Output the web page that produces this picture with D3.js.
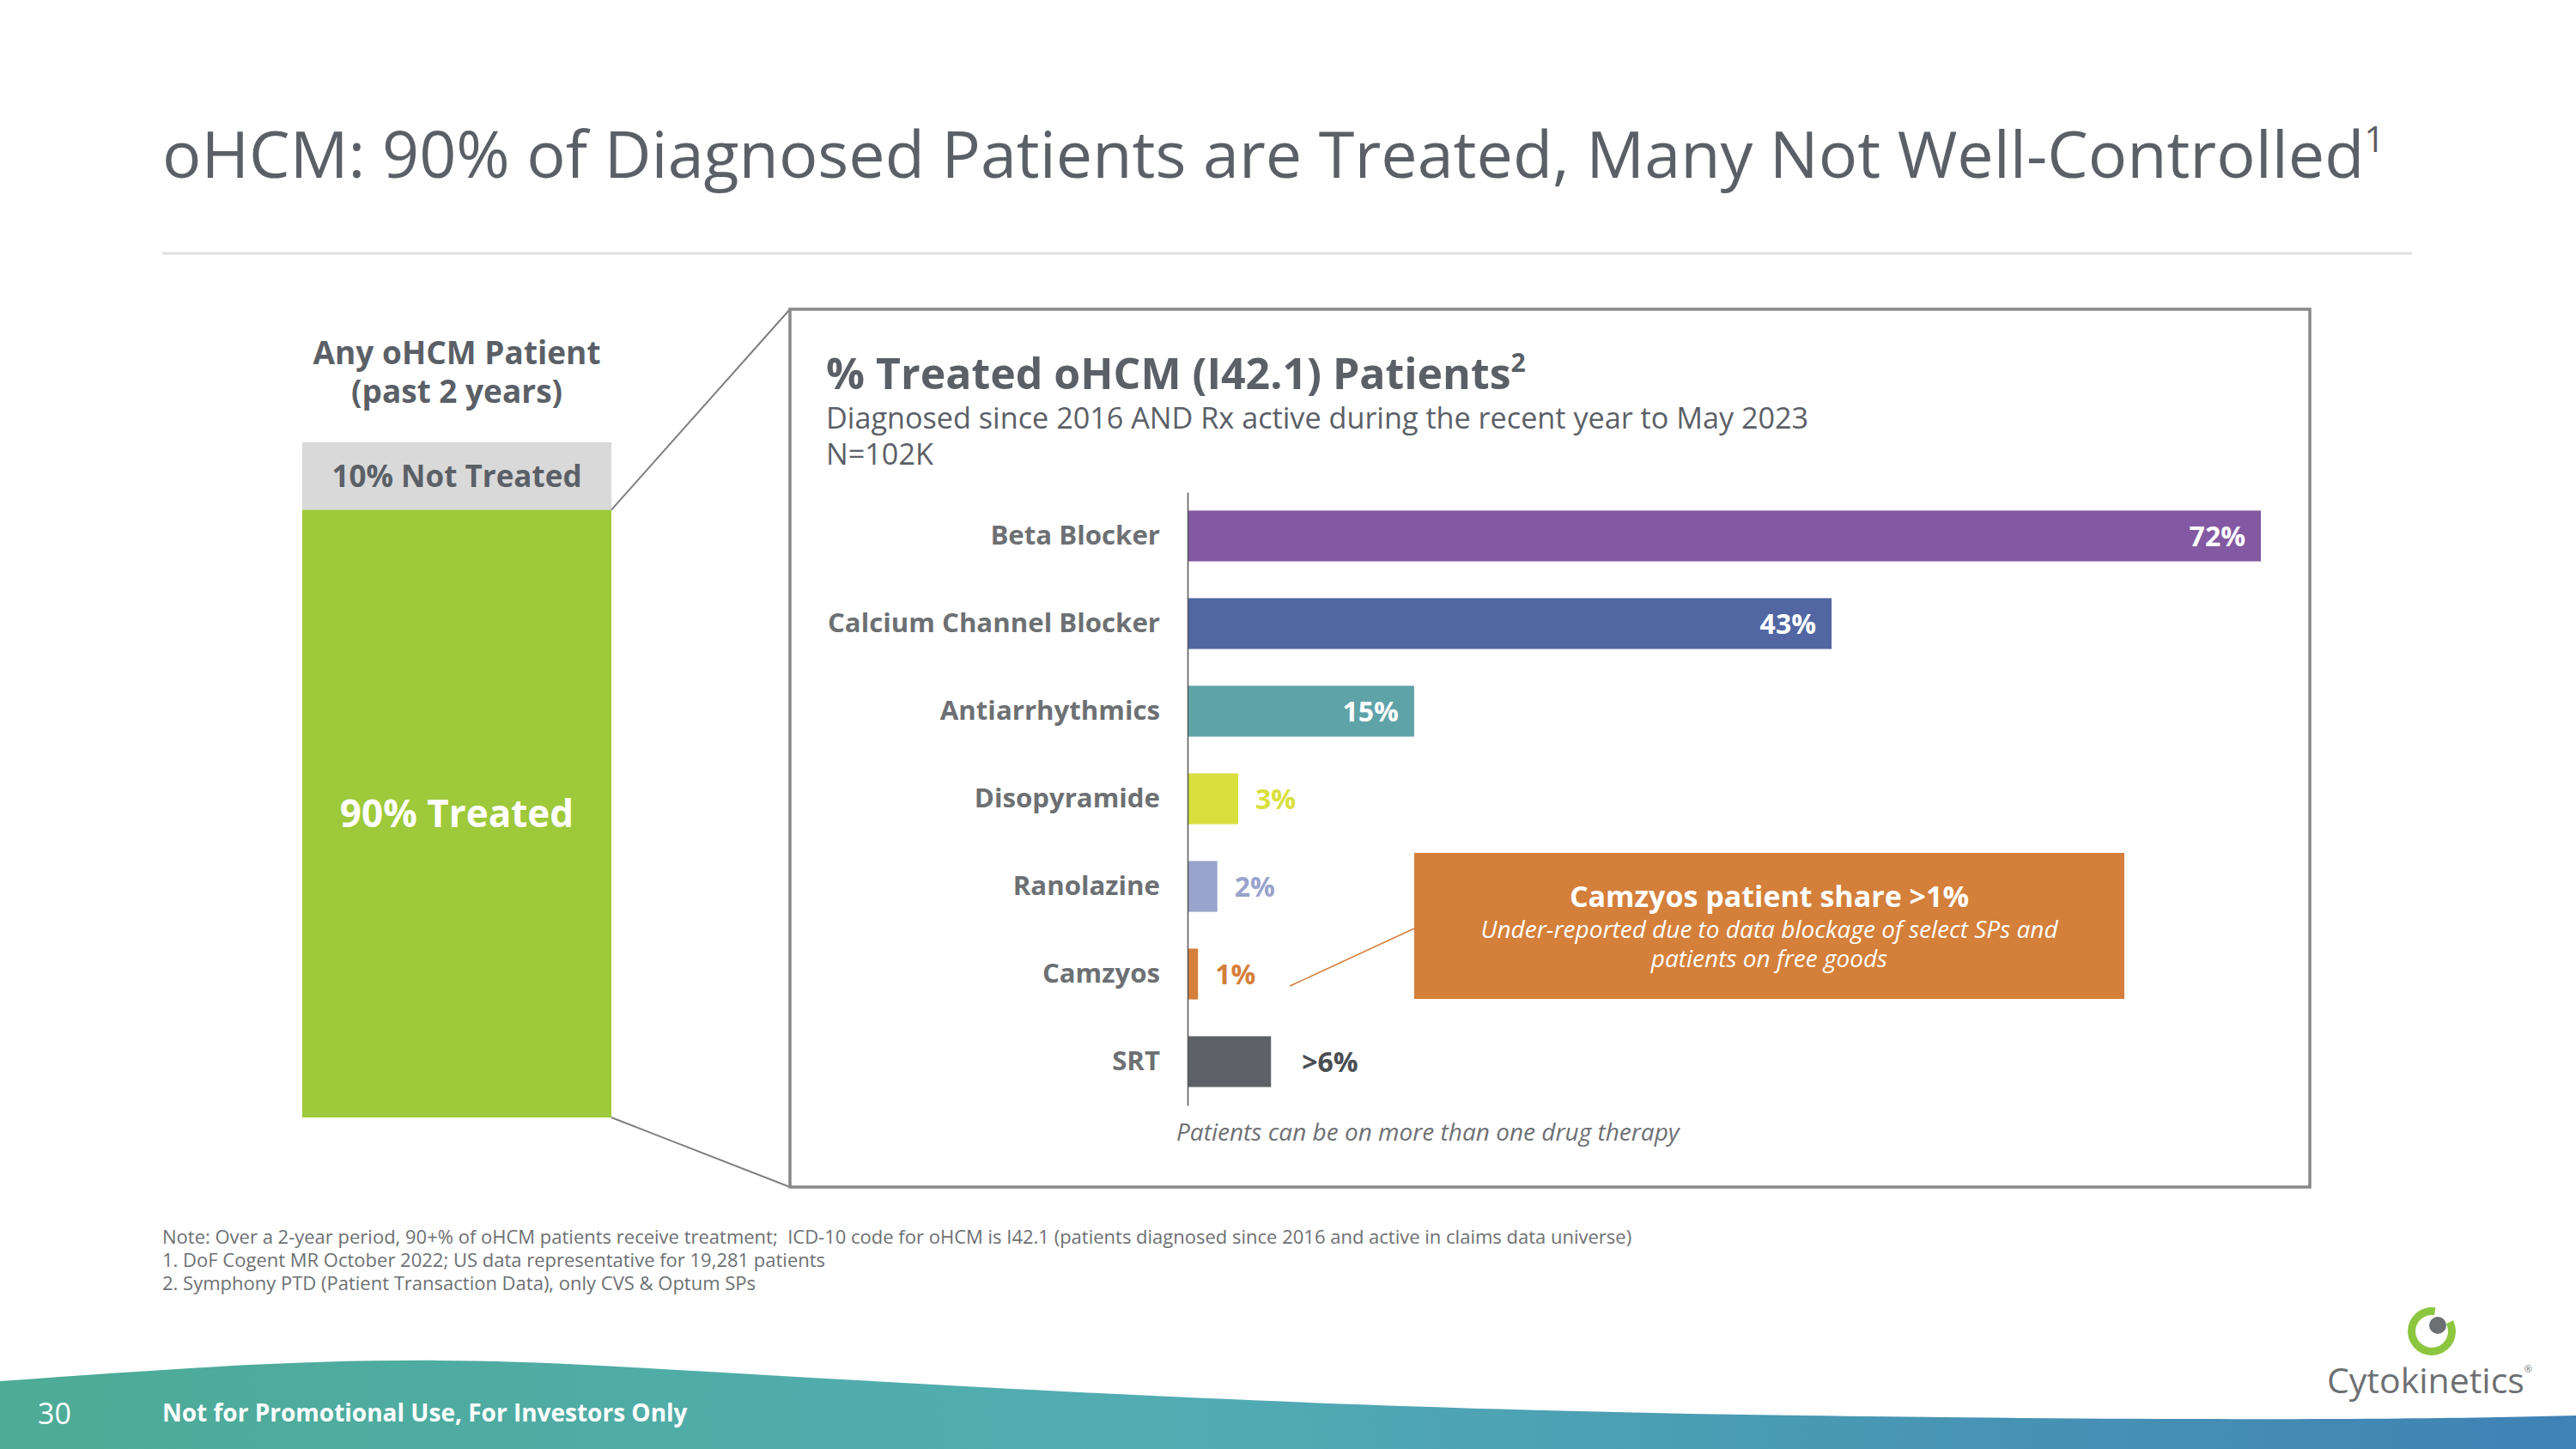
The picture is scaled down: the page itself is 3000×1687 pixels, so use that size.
<!DOCTYPE html>
<html>
<head>
<meta charset="utf-8">
<script src="https://cdn.jsdelivr.net/npm/d3@7"></script>
<style>
  body { margin: 0; background: #fff; }
  svg { display: block; font-family: "Open Sans", sans-serif; }
</style>
</head>
<body>
<svg id="chart" width="3000" height="1687"></svg>
<script>
// data
const drugs = ["Beta Blocker", "Calcium Channel Blocker", "Antiarrhythmics", "Disopyramide", "Ranolazine", "Camzyos", "SRT"];
const shares = [72, 43.2, 15.2, 3.4, 2, 0.7, 5.6];
const shareLabels = ["72%", "43%", "15%", "3%", "2%", "1%", ">6%"];
const drugColors = ["#8459a3", "#5166a3", "#5ea3a8", "#d9df3d", "#99a3cc", "#d47f3a", "#5e6266"];

const patientGroups = ["Not Treated", "Treated"];
const patientShares = [10, 90];
const patientLabels = ["10% Not Treated", "90% Treated"];

const footnotes = [
  "Note: Over a 2-year period, 90+% of oHCM patients receive treatment;  ICD-10 code for oHCM is I42.1 (patients diagnosed since 2016 and active in claims data universe)",
  "1. DoF Cogent MR October 2022; US data representative for 19,281 patients",
  "2. Symphony PTD (Patient Transaction Data), only CVS & Optum SPs"
];

const svg = d3.select("#chart");
const grey = "#5b6067";

// footer wave
const defs = svg.append("defs");
const grad = defs.append("linearGradient").attr("id", "wave").attr("x1", 0).attr("x2", 1);
grad.append("stop").attr("offset", 0).attr("stop-color", "#4dab96");
grad.append("stop").attr("offset", 0.45).attr("stop-color", "#52adb3");
grad.append("stop").attr("offset", 1).attr("stop-color", "#3f82b5");
svg.append("path")
  .attr("d", "M0,1608 C250,1590 450,1575 700,1590 C1100,1612 1500,1640 2100,1648 C2600,1655 2850,1652 3000,1648 L3000,1687 L0,1687 Z")
  .attr("fill", "url(#wave)");
svg.append("text").attr("x", 44).attr("y", 1658).attr("fill", "#fff")
  .attr("font-size", 34).text("30");
svg.append("text").attr("x", 189).attr("y", 1655).attr("fill", "#fff")
  .attr("font-size", 28).attr("font-weight", 700).text("Not for Promotional Use, For Investors Only");

// logo
const logo = svg.append("g").attr("transform", "translate(2832,1550)");
logo.append("path").attr("d", d3.arc()({innerRadius: 19, outerRadius: 28, startAngle: Math.PI * 0.35, endAngle: Math.PI * 2.05}))
  .attr("fill", "#8cc63f");
logo.append("circle").attr("cx", 7).attr("cy", -7).attr("r", 10).attr("fill", "#6d7073");
const lt = svg.append("text").attr("x", 2710).attr("y", 1622).attr("fill", "#6d7073").attr("font-size", 41);
lt.append("tspan").text("Cytokinetics");
lt.append("tspan").attr("font-size", 11).attr("dy", -24).text("®");

// title
const title = svg.append("text").attr("x", 189).attr("y", 207).attr("fill", grey).attr("font-size", 75.5);
title.append("tspan").text("oHCM: 90% of Diagnosed Patients are Treated, Many Not Well-Controlled");
title.append("tspan").attr("font-size", 42).attr("dy", -30).text("1");
svg.append("line").attr("x1", 189).attr("x2", 2809).attr("y1", 295).attr("y2", 295)
  .attr("stroke", "#e0e0e0").attr("stroke-width", 3);

// left stacked bar
const yLeft = d3.scaleLinear().domain([0, 100]).range([515, 1301]);
let acc = 0;
const stack = patientShares.map((v, i) => { const s = {y0: acc, y1: acc + v, i}; acc += v; return s; });
svg.selectAll("rect.pat").data(stack).join("rect")
  .attr("x", 352).attr("width", 360)
  .attr("y", d => yLeft(d.y0)).attr("height", d => yLeft(d.y1) - yLeft(d.y0))
  .attr("fill", (d, i) => i === 0 ? "#d9d9d9" : "#9ec93a");
svg.selectAll("text.pat").data(stack).join("text")
  .attr("x", 532).attr("y", d => (yLeft(d.y0) + yLeft(d.y1)) / 2)
  .attr("dy", "0.36em").attr("text-anchor", "middle").attr("font-weight", 700)
  .attr("font-size", (d, i) => i === 0 ? 35 : 44)
  .attr("fill", (d, i) => i === 0 ? grey : "#fff")
  .text((d, i) => patientLabels[i]);
svg.append("text").attr("x", 532).attr("y", 424).attr("text-anchor", "middle")
  .attr("font-weight", 700).attr("font-size", 37).attr("fill", grey).text("Any oHCM Patient");
svg.append("text").attr("x", 532).attr("y", 469).attr("text-anchor", "middle")
  .attr("font-weight", 700).attr("font-size", 37).attr("fill", grey).text("(past 2 years)");

// box and connector lines
const box = {x: 920, y: 360, w: 1770, h: 1022};
svg.append("line").attr("x1", 712).attr("y1", yLeft(10)).attr("x2", box.x).attr("y2", box.y)
  .attr("stroke", "#7f7f7f").attr("stroke-width", 2);
svg.append("line").attr("x1", 712).attr("y1", yLeft(100)).attr("x2", box.x).attr("y2", box.y + box.h)
  .attr("stroke", "#7f7f7f").attr("stroke-width", 2);
svg.append("rect").attr("x", box.x).attr("y", box.y).attr("width", box.w).attr("height", box.h)
  .attr("fill", "#fff").attr("stroke", "#888").attr("stroke-width", 3.5);

const ct = svg.append("text").attr("x", 962).attr("y", 453).attr("fill", grey)
  .attr("font-size", 50).attr("font-weight", 700);
ct.append("tspan").text("% Treated oHCM (I42.1) Patients");
ct.append("tspan").attr("font-size", 30).attr("dy", -20).text("2");
svg.append("text").attr("x", 962).attr("y", 499).attr("fill", grey).attr("font-size", 34.2)
  .text("Diagnosed since 2016 AND Rx active during the recent year to May 2023");
svg.append("text").attr("x", 962).attr("y", 541).attr("fill", grey).attr("font-size", 34.2)
  .text("N=102K");

// horizontal bars
const x = d3.scaleLinear().domain([0, 72]).range([1383, 2633]);
const y = d3.scaleBand().domain(drugs).range([573, 1287]).paddingInner(0.42).paddingOuter(0.21);
const rows = drugs.map((d, i) => ({name: d, v: shares[i], label: shareLabels[i], color: drugColors[i], i}));

svg.selectAll("rect.bar").data(rows).join("rect")
  .attr("x", x(0)).attr("y", d => y(d.name))
  .attr("width", d => x(d.v) - x(0)).attr("height", y.bandwidth())
  .attr("fill", d => d.color);

const yAxis = svg.append("g").attr("transform", `translate(${x(0)},0)`)
  .call(d3.axisLeft(y).tickSize(0).tickPadding(32));
yAxis.select(".domain").attr("stroke", "#555").attr("stroke-width", 1.5);
yAxis.selectAll("text").attr("font-family", "Open Sans").attr("font-size", 31.2)
  .attr("font-weight", 700).attr("fill", "#6d7073");

svg.selectAll("text.val").data(rows).join("text")
  .attr("y", d => y(d.name) + y.bandwidth() / 2).attr("dy", "0.36em")
  .attr("font-size", 32).attr("font-weight", 700)
  .attr("x", d => d.i < 3 ? x(d.v) - 18 : x(d.v) + (d.i === 6 ? 36 : 20))
  .attr("text-anchor", d => d.i < 3 ? "end" : "start")
  .attr("fill", d => d.i < 3 ? "#fff" : (d.i === 6 ? "#4a4e52" : d.color))
  .text(d => d.label);

svg.append("text").attr("x", 1370).attr("y", 1328).attr("fill", "#6d7073")
  .attr("font-size", 28).attr("font-style", "italic").text("Patients can be on more than one drug therapy");

// callout
const co = {x: 1647, y: 993, w: 827, h: 170};
svg.append("line").attr("x1", x(0.7) + 107).attr("y1", y("Camzyos") + y.bandwidth() / 2 + 14)
  .attr("x2", co.x).attr("y2", 1081).attr("stroke", "#d47f3a").attr("stroke-width", 1.5);
svg.append("rect").attr("x", co.x).attr("y", co.y).attr("width", co.w).attr("height", co.h).attr("fill", "#d47f3a");
svg.append("text").attr("x", co.x + co.w / 2).attr("y", 1056).attr("text-anchor", "middle")
  .attr("fill", "#fff").attr("font-size", 34).attr("font-weight", 700).text("Camzyos patient share >1%");
svg.append("text").attr("x", co.x + co.w / 2).attr("y", 1092).attr("text-anchor", "middle")
  .attr("fill", "#fff").attr("font-size", 28).attr("font-style", "italic")
  .text("Under-reported due to data blockage of select SPs and");
svg.append("text").attr("x", co.x + co.w / 2).attr("y", 1126).attr("text-anchor", "middle")
  .attr("fill", "#fff").attr("font-size", 28).attr("font-style", "italic")
  .text("patients on free goods");

// footnotes
svg.selectAll("text.fn").data(footnotes).join("text")
  .attr("x", 189).attr("y", (d, i) => 1448 + i * 27)
  .attr("fill", "#6d7073").attr("font-size", 22).attr("xml:space", "preserve")
  .style("white-space", "pre").text(d => d);
</script>
</body>
</html>
